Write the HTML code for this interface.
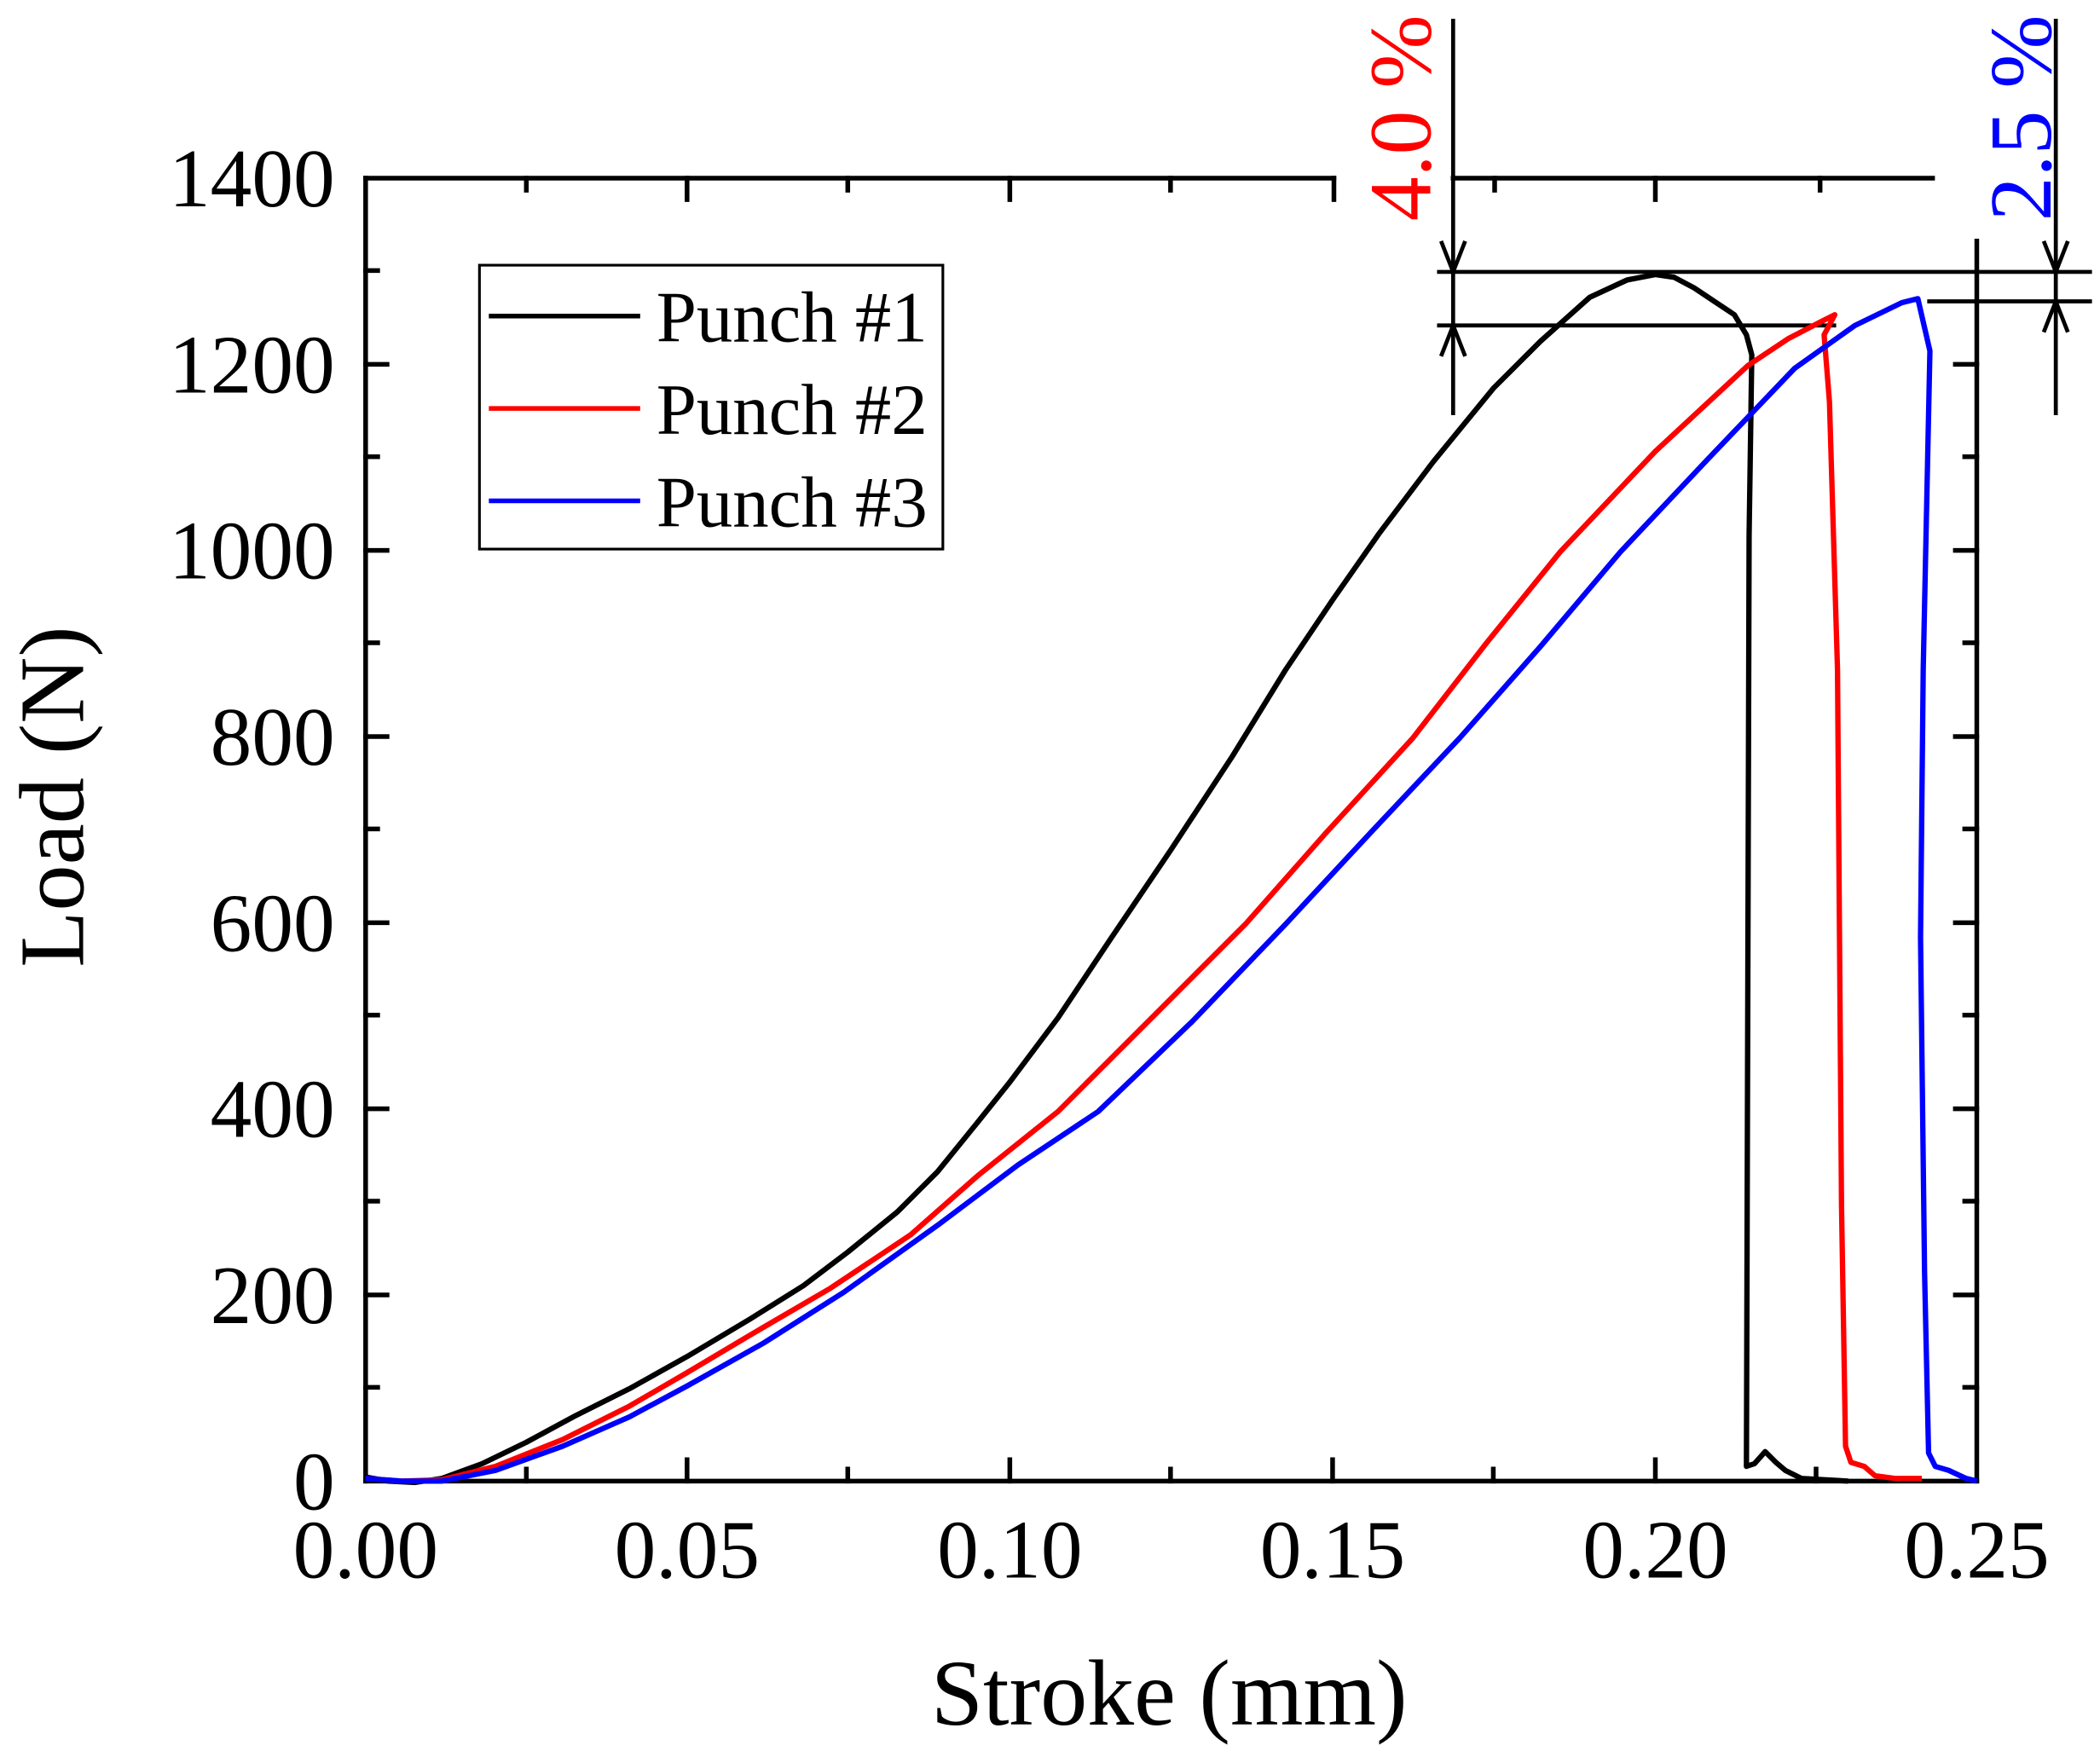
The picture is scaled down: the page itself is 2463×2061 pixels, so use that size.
<!DOCTYPE html>
<html><head><meta charset="utf-8"><style>
html,body{margin:0;padding:0;background:#fff}
svg{display:block}
text{font-family:"Liberation Serif",serif}
</style></head><body>
<svg width="2463" height="2061" viewBox="0 0 1568 1312" xmlns="http://www.w3.org/2000/svg">
<rect width="1568" height="1312" fill="#fff"/>
<g stroke="#000" stroke-width="3.5" fill="none" stroke-linecap="square">
<line x1="273" y1="133" x2="273" y2="1106"/>
<line x1="273" y1="1106" x2="1476" y2="1106"/>
<line x1="1476" y1="180" x2="1476" y2="1106"/>
<line x1="273" y1="133" x2="996" y2="133"/>
<line x1="1085" y1="133" x2="1443" y2="133"/>
<path d="M273 967h16M273 828h16M273 689h16M273 550h16M273 411h16M273 272h16M273 1036h9M273 897h9M273 758h9M273 619h9M273 480h9M273 341h9M273 202h9
M1476 967h-16M1476 828h-16M1476 689h-16M1476 550h-16M1476 411h-16M1476 272h-16M1476 1036h-9M1476 897h-9M1476 758h-9M1476 619h-9M1476 480h-9M1476 341h-9"/>
<path d="M513 1106v-16M754 1106v-16M995 1106v-16M1236 1106v-16M393 1106v-9M633 1106v-9M874 1106v-9M1115 1106v-9M1356 1106v-9"/>
<path d="M513 133v16M754 133v16M393 133v9M633 133v9M874 133v9M996 133v16M1236 133v16M1116 133v9M1359 133v9"/>
</g>
<g stroke="#000" stroke-width="3" fill="none">
<line x1="1085" y1="14" x2="1085" y2="310"/>
<line x1="1535" y1="14" x2="1535" y2="310"/>
<line x1="1073" y1="203" x2="1562" y2="203"/>
<line x1="1073" y1="243" x2="1371" y2="243"/>
<line x1="1439" y1="225" x2="1562" y2="225"/>
<path d="M1076 180L1085 203L1094 180M1076 266L1085 243L1094 266M1526 180L1535 203L1544 180M1526 248L1535 225L1544 248"/>
</g>
<text transform="translate(1068,88) rotate(-90)" text-anchor="middle" font-size="66" fill="#f00">4.0 %</text>
<text transform="translate(1531,88) rotate(-90)" text-anchor="middle" font-size="66" fill="#00f">2.5 %</text>
<g fill="none" stroke-width="4" stroke-linejoin="round">
<polyline stroke="#000" points="273,1103 290,1106 310,1107 330,1104 360,1093 393,1077 430,1057 470,1037 513,1013 560,985 600,960 633,935 670,905 700,875 730,838 754,808 790,760 830,700 874,635 920,565 960,500 995,448 1030,398 1070,345 1115,290 1150,255 1187,222 1215,209 1236,205 1250,207 1265,215 1280,225 1295,235 1304,250 1308,265 1306,400 1304,1095 1310,1093 1318,1084 1326,1092 1333,1098 1345,1104 1380,1106"/>
<polyline stroke="#f00" points="273,1104 300,1106 330,1105 370,1095 420,1075 470,1050 513,1025 560,997 620,962 680,922 730,878 790,830 860,760 930,690 990,622 1055,551 1110,480 1165,412 1236,337 1305,273 1335,253 1360,240 1370,235 1362,250 1366,300 1372,500 1375,900 1378,1080 1382,1092 1392,1095 1400,1102 1415,1104 1435,1104"/>
<polyline stroke="#00f" points="273,1104 300,1106 330,1106 370,1098 420,1080 470,1058 513,1035 570,1003 630,965 700,915 760,870 820,830 890,763 960,690 1025,620 1090,551 1150,483 1210,412 1275,343 1340,275 1385,243 1420,226 1432,223 1441,262 1436,500 1434,700 1437,950 1440,1085 1445,1095 1455,1098 1468,1104 1476,1106"/>
</g>
<rect x="358" y="198" width="346" height="212" fill="#fff" stroke="#000" stroke-width="2"/>
<g stroke-width="3.5">
<line x1="365" y1="236" x2="478" y2="236" stroke="#000"/>
<line x1="365" y1="305" x2="478" y2="305" stroke="#f00"/>
<line x1="365" y1="374" x2="478" y2="374" stroke="#00f"/>
</g>
<g font-size="54" fill="#000">
<text x="490" y="255">Punch #1</text>
<text x="490" y="324">Punch #2</text>
<text x="490" y="393">Punch #3</text>
</g>
<g font-size="62" fill="#000" text-anchor="end">
<text x="250" y="1127">0</text>
<text x="250" y="988">200</text>
<text x="250" y="849">400</text>
<text x="250" y="710">600</text>
<text x="250" y="571">800</text>
<text x="250" y="432">1000</text>
<text x="250" y="293">1200</text>
<text x="250" y="154">1400</text>
</g>
<g font-size="62" fill="#000" text-anchor="middle">
<text x="273" y="1178">0.00</text>
<text x="513" y="1178">0.05</text>
<text x="754" y="1178">0.10</text>
<text x="995" y="1178">0.15</text>
<text x="1236" y="1178">0.20</text>
<text x="1476" y="1178">0.25</text>
</g>
<text x="873" y="1288" font-size="70" text-anchor="middle">Stroke (mm)</text>
<text transform="translate(62,595) rotate(-90)" font-size="69" text-anchor="middle">Load (N)</text>
</svg>
</body></html>
